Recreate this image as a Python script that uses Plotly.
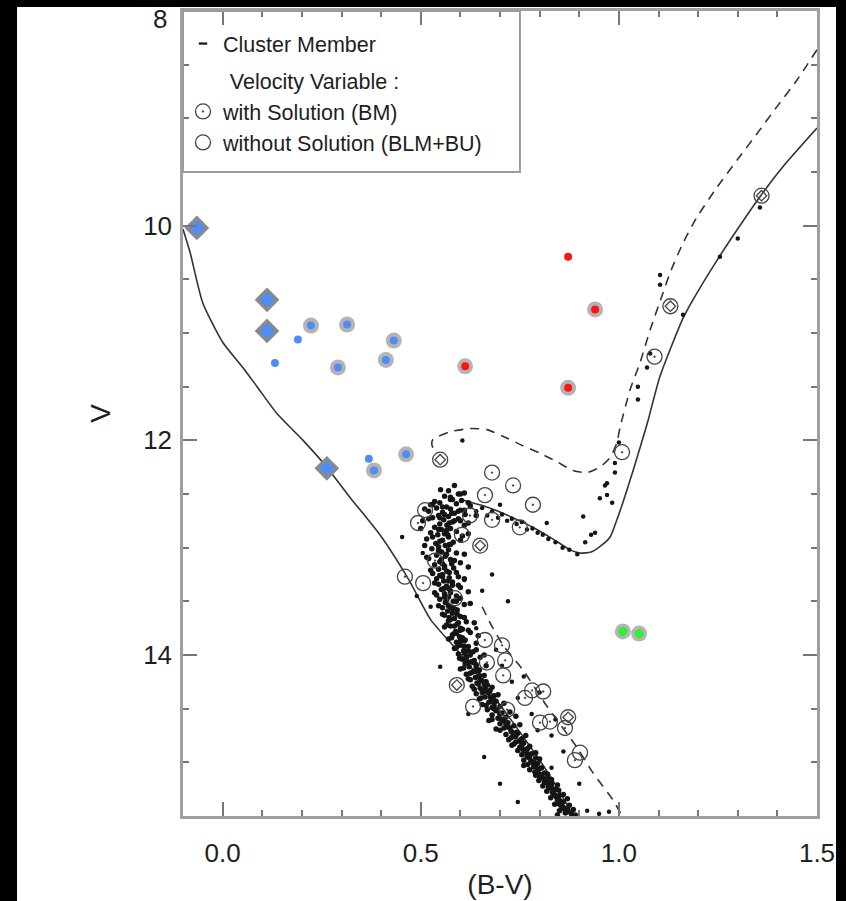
import plotly.graph_objects as go

# ---------------- data ----------------
# ZAMS-like solid curve (left)
zams_bv = [-0.100, -0.082, -0.050, 0.001, 0.051, 0.087, 0.137, 0.203, 0.263, 0.321, 0.397, 0.470, 0.525, 0.607, 0.733, 0.834, 0.885]
zams_v = [10.03, 10.25, 10.72, 11.09, 11.32, 11.50, 11.75, 12.00, 12.25, 12.53, 12.88, 13.30, 13.67, 14.02, 14.63, 15.17, 15.50]

# isochrone: subgiant + red giant branch (solid)
iso_bv = [0.600, 0.667, 0.750, 0.793, 0.834, 0.877, 0.902, 0.930, 0.952, 0.978, 0.995, 1.010, 1.036, 1.071, 1.104, 1.162, 1.187, 1.248, 1.298, 1.356, 1.414, 1.500]
iso_v = [12.55, 12.62, 12.75, 12.83, 12.92, 13.02, 13.05, 13.04, 12.99, 12.90, 12.74, 12.58, 12.28, 11.85, 11.40, 10.86, 10.69, 10.32, 10.04, 9.73, 9.45, 9.09]

# binary sequence (dashed): giant/subgiant part and lower main-sequence part
bin_up_bv = [1.500, 1.450, 1.399, 1.349, 1.298, 1.248, 1.197, 1.162, 1.129, 1.111, 1.079, 1.053, 1.028, 1.003, 0.995, 0.978, 0.952, 0.920, 0.884, 0.844, 0.801, 0.758, 0.718, 0.667, 0.624, 0.574, 0.531, 0.528, 0.535]
bin_up_v = [8.36, 8.64, 8.89, 9.14, 9.39, 9.64, 9.92, 10.16, 10.44, 10.63, 10.97, 11.28, 11.53, 11.88, 12.02, 12.16, 12.25, 12.30, 12.28, 12.20, 12.12, 12.05, 11.98, 11.90, 11.89, 11.92, 11.99, 12.04, 12.10]
bin_low_bv = [0.655, 0.675, 0.708, 0.758, 0.819, 0.894, 0.935, 0.985, 1.008]
bin_low_v = [13.55, 13.70, 13.91, 14.14, 14.48, 14.86, 15.10, 15.35, 15.50]

# cluster members: main sequence
ms_bv = [0.585, 0.570, 0.595, 0.560, 0.580, 0.603, 0.548, 0.590, 0.620, 0.530,
         0.565, 0.540, 0.575, 0.600, 0.520, 0.555, 0.585, 0.612, 0.545, 0.570, 0.530, 0.595, 0.558, 0.505, 0.580, 0.620, 0.548, 0.566,
         0.535, 0.575, 0.552, 0.590, 0.525, 0.560, 0.543, 0.605, 0.570, 0.515, 0.555, 0.582, 0.538, 0.562, 0.545,
         0.528, 0.570, 0.553, 0.590, 0.540, 0.562, 0.520, 0.575, 0.548, 0.600, 0.535, 0.560, 0.583, 0.545, 0.566, 0.530, 0.555, 0.595, 0.572, 0.540,
         0.558, 0.580, 0.545, 0.565, 0.600, 0.552, 0.575, 0.535, 0.560, 0.590, 0.570, 0.548, 0.582, 0.562, 0.610, 0.575, 0.555, 0.592, 0.568,
         0.580, 0.560, 0.600, 0.585, 0.570, 0.615, 0.592, 0.575, 0.560, 0.605, 0.588, 0.625, 0.580, 0.598, 0.570, 0.612, 0.590, 0.640,
         0.600, 0.620, 0.585, 0.608, 0.632, 0.595, 0.615, 0.650, 0.605, 0.628, 0.612, 0.640, 0.622, 0.600, 0.648, 0.630, 0.615, 0.660,
         0.638, 0.625, 0.655, 0.642, 0.668, 0.630, 0.650, 0.675, 0.660, 0.640, 0.685, 0.662, 0.648, 0.690, 0.672, 0.655, 0.700, 0.680,
         0.668, 0.690, 0.705, 0.680, 0.715, 0.695, 0.672, 0.720, 0.700, 0.735, 0.710, 0.690, 0.728, 0.745, 0.715, 0.735, 0.755, 0.722,
         0.740, 0.760, 0.730, 0.750, 0.770, 0.745, 0.762, 0.780, 0.755, 0.770, 0.790, 0.760, 0.778, 0.795, 0.770, 0.785, 0.805, 0.775, 0.795, 0.812,
         0.790, 0.805, 0.820, 0.798, 0.815, 0.830, 0.808, 0.825, 0.840, 0.818, 0.835, 0.850, 0.828, 0.845, 0.860, 0.838, 0.855, 0.870, 0.850, 0.865, 0.880]
ms_v = [12.42, 12.47, 12.50, 12.52, 12.55, 12.56, 12.58, 12.59, 12.58, 12.60,
        12.62, 12.63, 12.64, 12.65, 12.66, 12.67, 12.68, 12.69, 12.70, 12.71, 12.72, 12.73, 12.74, 12.75, 12.76, 12.77, 12.78, 12.79,
        12.81, 12.82, 12.83, 12.85, 12.86, 12.87, 12.88, 12.89, 12.90, 12.92, 12.93, 12.95, 12.96, 12.98, 12.99,
        13.01, 13.02, 13.04, 13.05, 13.07, 13.08, 13.10, 13.11, 13.13, 13.14, 13.16, 13.17, 13.19, 13.20, 13.22, 13.24, 13.25, 13.27, 13.28, 13.29,
        13.31, 13.32, 13.34, 13.36, 13.37, 13.39, 13.40, 13.42, 13.43, 13.45, 13.46, 13.48, 13.50, 13.51, 13.53, 13.55, 13.56, 13.58, 13.59,
        13.61, 13.63, 13.64, 13.66, 13.68, 13.69, 13.71, 13.73, 13.74, 13.76, 13.78, 13.79, 13.81, 13.83, 13.85, 13.86, 13.88, 13.89,
        13.91, 13.92, 13.94, 13.96, 13.97, 13.99, 14.01, 14.02, 14.04, 14.06, 14.08, 14.09, 14.11, 14.13, 14.14, 14.16, 14.18, 14.19,
        14.21, 14.23, 14.24, 14.26, 14.28, 14.29, 14.31, 14.33, 14.34, 14.36, 14.38, 14.39, 14.41, 14.43, 14.44, 14.46, 14.48, 14.49,
        14.51, 14.52, 14.54, 14.56, 14.58, 14.59, 14.61, 14.63, 14.64, 14.66, 14.68, 14.69, 14.71, 14.73, 14.74, 14.76, 14.78, 14.79,
        14.81, 14.82, 14.84, 14.86, 14.87, 14.89, 14.90, 14.92, 14.93, 14.95, 14.96, 14.98, 14.99, 15.01, 15.02, 15.04, 15.05, 15.07, 15.08, 15.10,
        15.12, 15.13, 15.15, 15.17, 15.18, 15.20, 15.22, 15.24, 15.25, 15.27, 15.29, 15.31, 15.33, 15.35, 15.37, 15.39, 15.41, 15.43, 15.45, 15.47, 15.48]

# more main-sequence members (second pass over the dense band)
ms2_bv = [0.550, 0.610, 0.575, 0.535, 0.625, 0.510, 0.595, 0.560, 0.640,
          0.520, 0.585, 0.610, 0.500, 0.565, 0.620, 0.530, 0.600, 0.572, 0.510,
          0.545, 0.610, 0.515, 0.585, 0.555, 0.620, 0.525, 0.590, 0.548, 0.610,
          0.535, 0.595, 0.570, 0.620, 0.540, 0.600, 0.565, 0.625, 0.545, 0.585,
          0.555, 0.610, 0.575, 0.635, 0.565, 0.600, 0.620, 0.585, 0.645, 0.578, 0.610,
          0.590, 0.640, 0.610, 0.660, 0.598, 0.635, 0.618, 0.665, 0.608, 0.645, 0.625,
          0.620, 0.665, 0.645, 0.680, 0.635, 0.670, 0.695, 0.652, 0.680, 0.710, 0.665,
          0.685, 0.725, 0.700, 0.740, 0.680, 0.712, 0.750, 0.720, 0.700, 0.742, 0.765, 0.728,
          0.750, 0.735, 0.775, 0.758, 0.790, 0.768, 0.800, 0.785, 0.760, 0.800, 0.788, 0.820,
          0.800, 0.830, 0.812, 0.845, 0.822, 0.848, 0.832, 0.860, 0.842, 0.870, 0.852, 0.875, 0.860, 0.885, 0.870, 0.845, 0.890]
ms2_v = [12.46, 12.49, 12.53, 12.57, 12.61, 12.64, 12.66, 12.69, 12.70,
         12.73, 12.75, 12.79, 12.82, 12.84, 12.87, 12.90, 12.93, 12.97, 12.98,
         13.03, 13.06, 13.09, 13.12, 13.15, 13.18, 13.21, 13.23, 13.26, 13.29,
         13.33, 13.35, 13.38, 13.41, 13.44, 13.47, 13.49, 13.52, 13.54, 13.57,
         13.62, 13.65, 13.67, 13.70, 13.72, 13.75, 13.77, 13.80, 13.82, 13.84, 13.87,
         13.93, 13.95, 13.98, 14.00, 14.03, 14.05, 14.07, 14.10, 14.12, 14.15, 14.17,
         14.22, 14.25, 14.27, 14.30, 14.32, 14.35, 14.37, 14.40, 14.42, 14.45, 14.47,
         14.50, 14.53, 14.55, 14.57, 14.60, 14.62, 14.65, 14.67, 14.70, 14.72, 14.75, 14.77,
         14.80, 14.83, 14.85, 14.88, 14.91, 14.94, 14.97, 15.00, 15.03, 15.06, 15.09, 15.11,
         15.14, 15.16, 15.19, 15.21, 15.23, 15.26, 15.28, 15.30, 15.32, 15.34, 15.36, 15.40, 15.42, 15.44, 15.46, 15.49, 15.49]

# main-sequence core (third pass along the ridge line)
ms3_bv = [0.575, 0.555, 0.578, 0.548, 0.572, 0.545, 0.568, 0.548, 0.575, 0.545, 0.565, 0.552, 0.578, 0.560, 0.572, 0.555,
          0.570, 0.580, 0.558, 0.575, 0.560, 0.590, 0.570, 0.580, 0.592, 0.572, 0.595, 0.585, 0.600, 0.590, 0.605, 0.600,
          0.610, 0.620, 0.625, 0.615, 0.632, 0.640, 0.635, 0.648, 0.650, 0.660, 0.662, 0.655, 0.675, 0.680, 0.685, 0.690,
          0.700, 0.705, 0.715, 0.725, 0.730, 0.740, 0.750, 0.755, 0.765, 0.770, 0.775, 0.780, 0.790, 0.795, 0.800, 0.810,
          0.820, 0.830, 0.835, 0.840, 0.848, 0.850, 0.860, 0.865, 0.600, 0.525, 0.610, 0.600]
ms3_v = [12.55, 12.62, 12.68, 12.72, 12.77, 12.83, 12.88, 12.94, 12.97, 13.02, 13.06, 13.11, 13.15, 13.19, 13.23, 13.27,
         13.31, 13.35, 13.38, 13.42, 13.46, 13.50, 13.54, 13.57, 13.62, 13.65, 13.70, 13.73, 13.77, 13.80, 13.84, 13.87,
         13.92, 13.96, 14.00, 14.03, 14.07, 14.11, 14.15, 14.19, 14.23, 14.27, 14.31, 14.35, 14.39, 14.43, 14.47, 14.51,
         14.55, 14.60, 14.64, 14.68, 14.72, 14.76, 14.80, 14.84, 14.88, 14.92, 14.96, 15.00, 15.03, 15.07, 15.11, 15.15,
         15.19, 15.23, 15.27, 15.31, 15.35, 15.39, 15.43, 15.47, 12.50, 12.60, 12.65, 12.75]

# cluster members scattered around the main sequence
out_bv = [0.453, 0.549, 0.490, 0.620, 0.660, 0.700, 0.745, 0.720, 0.680, 0.760, 0.800, 0.840, 0.860, 0.830, 0.900,
          0.920, 0.950, 0.975, 0.830, 0.505, 0.525, 0.640, 0.690, 0.730, 0.780, 0.610, 0.655, 0.705, 0.745, 0.795]
out_v = [12.90, 14.11, 13.45, 14.55, 14.95, 15.20, 15.37, 13.50, 13.25, 14.20, 14.35, 14.60, 14.90, 15.05, 15.20,
         15.45, 15.48, 15.46, 14.75, 13.05, 13.55, 13.75, 13.95, 14.25, 14.55, 13.30, 13.40, 14.10, 14.40, 14.70]

# cluster members on the subgiant branch
sg_bv = [0.625, 0.640, 0.655, 0.668, 0.680, 0.695, 0.705, 0.718, 0.730, 0.742, 0.755, 0.768, 0.782, 0.795, 0.808, 0.822,
         0.840, 0.858, 0.875, 0.895, 0.818, 0.700, 0.915, 0.930]
sg_v = [12.62, 12.66, 12.63, 12.70, 12.66, 12.72, 12.69, 12.75, 12.73, 12.78, 12.76, 12.83, 12.82, 12.86, 12.88, 12.92,
        12.95, 13.00, 13.02, 13.06, 12.77, 12.60, 12.95, 12.88]

# cluster members: red clump / giants
gb_bv = [0.910, 0.940, 0.952, 0.970, 0.965, 0.983, 0.990, 0.990, 0.970, 1.000, 0.605, 1.048, 1.048, 1.071, 1.079,
         1.104, 1.104, 1.162, 1.255, 1.300, 1.356]
gb_v = [12.71, 12.86, 12.54, 12.51, 12.42, 12.58, 12.30, 12.21, 12.40, 12.02, 12.00, 11.50, 11.62, 11.32, 11.19,
        10.46, 10.55, 10.83, 10.29, 10.12, 9.83]

# velocity variables with orbital solution (BM)
bm_bv = [0.680, 0.733, 0.783, 0.662, 0.511, 0.624, 0.680, 0.750, 0.604, 0.536, 0.506, 0.493, 0.460, 1.008, 1.090,
         0.586, 0.662, 0.705, 0.713, 0.708, 0.667, 0.632, 0.718, 0.763, 0.781, 0.809, 0.801, 0.826, 0.864, 0.889, 0.902]
bm_v = [12.30, 12.42, 12.60, 12.51, 12.65, 12.70, 12.74, 12.81, 12.88, 13.12, 13.33, 12.77, 13.27, 12.11, 11.22,
        13.47, 13.86, 13.91, 14.05, 14.19, 14.07, 14.48, 14.51, 14.40, 14.33, 14.34, 14.63, 14.62, 14.68, 14.98, 14.91]

# velocity variables without solution (BLM + BU)
blm_bv = [0.549, 0.650, 0.591, 0.872, 1.130, 1.360]
blm_v = [12.18, 12.98, 14.28, 14.58, 10.75, 9.72]

# highlighted stars
blue_dia_bv = [-0.065, 0.112, 0.112, 0.263]
blue_dia_v = [10.02, 10.69, 10.98, 12.26]
blue_bm_bv = [0.223, 0.314, 0.432, 0.412, 0.291, 0.463, 0.382]
blue_bm_v = [10.93, 10.92, 11.07, 11.25, 11.32, 12.13, 12.28]
blue_dot_bv = [0.190, 0.132, 0.369]
blue_dot_v = [11.06, 11.28, 12.17]
red_bm_bv = [0.612, 0.940, 0.872]
red_bm_v = [11.31, 10.78, 11.51]
red_dot_bv = [0.872]
red_dot_v = [10.29]
green_bm_bv = [1.010, 1.051]
green_bm_v = [13.78, 13.80]

# axis ticks
y_tickvals = [8, 10, 12, 14]
y_ticktext = ["", "10", "12", "14"]   # the "8" at the very top is placed a little lower, as in the original
y_top_label = "8"

# ---------------- figure ----------------
FONT = "Liberation Sans, Arial, Helvetica, sans-serif"
INK = "#1e1e1e"
BLUE = "#4f8df5"
RED = "#ff1414"
GREEN = "#2ef02e"
LINE = dict(color="#333", width=1.6, shape="spline", smoothing=0.6)
DASH = dict(color="#333", width=1.6, dash="9px,7px", shape="spline", smoothing=0.6)

fig = go.Figure()

for xs, ys, st in [(zams_bv, zams_v, LINE), (iso_bv, iso_v, LINE), (bin_up_bv, bin_up_v, DASH), (bin_low_bv, bin_low_v, DASH)]:
    fig.add_trace(go.Scatter(x=xs, y=ys, mode="lines", line=st, showlegend=False, hoverinfo="skip"))

# legend key for members (drawn as a dash, as in the original legend)
fig.add_trace(go.Scatter(x=[None], y=[None], mode="markers", name="Cluster Member",
                         marker=dict(symbol="line-ew", size=6, color="#111", line=dict(color="#111", width=2.2))))
fig.add_trace(go.Scatter(x=ms_bv + ms2_bv + ms3_bv, y=ms_v + ms2_v + ms3_v, mode="markers", showlegend=False,
                         marker=dict(symbol="circle", size=5.5, color="#151515", line=dict(width=0))))
fig.add_trace(go.Scatter(x=out_bv + sg_bv + gb_bv, y=out_v + sg_v + gb_v, mode="markers", showlegend=False,
                         marker=dict(symbol="circle", size=4.5, color="#151515", line=dict(width=0))))

fig.add_trace(go.Scatter(x=bm_bv, y=bm_v, mode="markers", name="with Solution (BM)",
                         legendgroup="vv", legendgrouptitle=dict(text="\u00a0" * 7 + "Velocity Variable :",
                                                                 font=dict(family=FONT, size=21.5, color=INK)),
                         marker=dict(symbol="circle-open-dot", size=15, color="#444", line=dict(width=1.3))))
fig.add_trace(go.Scatter(x=blm_bv, y=blm_v, mode="markers", name="without Solution (BLM+BU)", legendgroup="vv",
                         marker=dict(symbol="circle-open", size=15, color="#444", line=dict(width=1.3))))
fig.add_trace(go.Scatter(x=blm_bv, y=blm_v, mode="markers", legendgroup="vv", showlegend=False,
                         marker=dict(symbol="diamond-open", size=8, color="#444", line=dict(width=1.3))))

# halos for coloured stars
halo_bv = blue_bm_bv + red_bm_bv + green_bm_bv
halo_v = blue_bm_v + red_bm_v + green_bm_v
fig.add_trace(go.Scatter(x=halo_bv, y=halo_v, mode="markers", showlegend=False,
                         marker=dict(symbol="circle", size=16, color="#b4b4b4", line=dict(width=0))))
fig.add_trace(go.Scatter(x=blue_dia_bv, y=blue_dia_v, mode="markers", showlegend=False,
                         marker=dict(symbol="diamond", size=19, color="#8a8a8a", line=dict(width=0))))
fig.add_trace(go.Scatter(x=blue_dia_bv, y=blue_dia_v, mode="markers", showlegend=False,
                         marker=dict(symbol="diamond", size=12, color=BLUE, line=dict(width=0))))
fig.add_trace(go.Scatter(x=blue_bm_bv + blue_dot_bv, y=blue_bm_v + blue_dot_v, mode="markers", showlegend=False,
                         marker=dict(symbol="circle", size=8, color=BLUE, line=dict(width=0))))
fig.add_trace(go.Scatter(x=red_bm_bv + red_dot_bv, y=red_bm_v + red_dot_v, mode="markers", showlegend=False,
                         marker=dict(symbol="circle", size=8, color=RED, line=dict(width=0))))
fig.add_trace(go.Scatter(x=green_bm_bv, y=green_bm_v, mode="markers", showlegend=False,
                         marker=dict(symbol="circle", size=9, color=GREEN, line=dict(width=0))))

axis_common = dict(
    showgrid=False, zeroline=False, showline=True, linecolor="#a0a0a0", linewidth=2.5,
    mirror="allticks", ticks="inside", tickcolor="#777", tickwidth=1.5, ticklen=14,
    tickfont=dict(family=FONT, size=26, color=INK), automargin=False,
)

fig.update_layout(
    width=846, height=901,
    margin=dict(l=183, r=29, t=11, b=85, autoexpand=False),
    paper_bgcolor="black", plot_bgcolor="white",
    font=dict(family=FONT, color=INK),
    xaxis=dict(range=[-0.1, 1.5], tick0=0, dtick=0.5, tickformat=".1f",
               minor=dict(dtick=0.1, ticks="inside", ticklen=6, tickcolor="#777", tickwidth=1.5),
               ticklabelstandoff=12, ticklabeloverflow="allow",
               title=dict(text="(B-V)", font=dict(family=FONT, size=28, color=INK), standoff=8),
               **axis_common),
    yaxis=dict(range=[15.5, 7.999], tickmode="array", tickvals=y_tickvals, ticktext=y_ticktext,
               minor=dict(dtick=0.5, ticks="inside", ticklen=6, tickcolor="#777", tickwidth=1.5),
               ticklabelstandoff=3,
               title=dict(text="V", font=dict(family=FONT, size=28, color=INK), standoff=25),
               **axis_common),
    legend=dict(x=0.0, y=0.985, xanchor="left", yanchor="top", bgcolor="rgba(0,0,0,0)", borderwidth=0,
                font=dict(family=FONT, size=21.5, color=INK), tracegroupgap=6, itemclick=False),
    annotations=[
        dict(text=y_top_label, xref="paper", yref="y", x=0, y=y_tickvals[0], xanchor="right", yanchor="middle",
             xshift=-14, yshift=-8, showarrow=False, font=dict(family=FONT, size=26, color=INK)),
    ],
    shapes=[
        dict(type="rect", xref="paper", yref="paper", x0=-0.2618, x1=1.030, y0=-0.1056, y1=1.005,
             fillcolor="white", line=dict(width=0), layer="below"),
        dict(type="rect", xref="paper", yref="paper", x0=0, x1=0.5315, y0=0.8, y1=1.0,
             fillcolor="rgba(0,0,0,0)", line=dict(color="#9a9a9a", width=2), layer="above"),
    ],
)

fig.write_html("out.html")
